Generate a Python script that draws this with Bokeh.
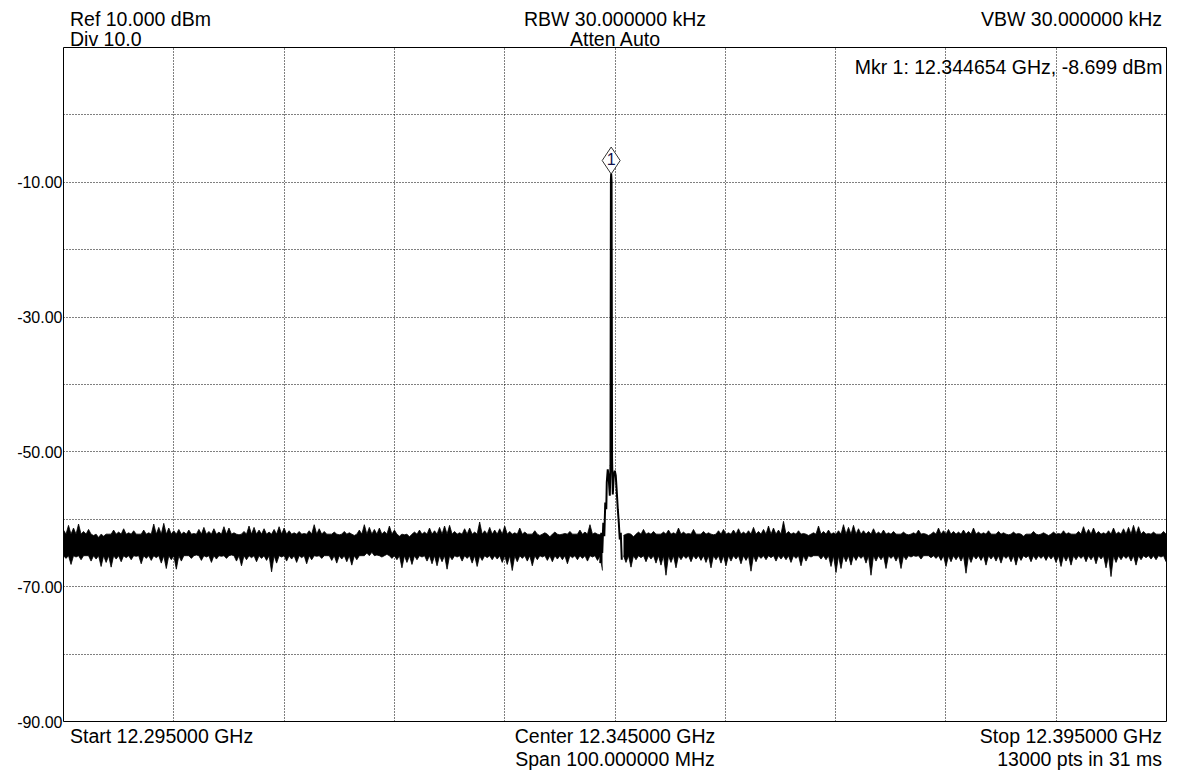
import numpy as np
from bokeh.plotting import figure
from bokeh.layouts import column
from bokeh.models import Range1d, FixedTicker, PrintfTickFormatter, Label, Div
from bokeh.embed import file_html
from bokeh.resources import INLINE
from bokeh.core.properties import value

# ---------------- data ----------------
f_start = 12.295          # GHz
f_stop = 12.395           # GHz
ref_level = 10.0          # dBm
div_db = 10.0
n_div = 10
y_label_ticks = [-90, -70, -50, -30, -10]
y_grid_ticks = [-80, -70, -60, -50, -40, -30, -20, -10, 0]
x_grid_ticks = [12.305, 12.315, 12.325, 12.335, 12.345, 12.355, 12.365, 12.375, 12.385]

mkr_freq = 12.344654      # GHz
mkr_level = -8.699        # dBm

# solid core of the noise band (dBm)
core_top = -62.2
core_bottom = -65.4

# noise floor, left of carrier: per-bin upper / lower extremes (dBm)
left_f_first, left_f_last = 12.295, 12.34364
left_hi = [-61.6, -60.9, -61.3, -60.7, -61.8, -61.5, -62.4, -62.7, -62.5, -62.2,
           -61.6, -61.9, -61.4, -62.0, -61.7, -62.2, -61.6, -62.0, -60.7, -61.2,
           -60.6, -61.3, -61.7, -61.5, -61.9, -61.6, -62.1, -61.5, -61.2, -61.8,
           -61.4, -61.9, -61.1, -61.3, -62.0, -62.3, -61.8, -61.0, -61.2, -61.6,
           -61.4, -61.9, -61.5, -61.1, -61.3, -61.7, -62.0, -61.8, -62.1, -61.7,
           -60.8, -61.4, -61.8, -62.2, -61.9, -62.3, -61.8, -62.0, -62.4, -61.6,
           -60.8, -61.2, -61.5, -61.3, -61.8, -61.0, -61.6, -62.5, -62.3, -62.6,
           -61.9, -61.6, -61.9, -61.3, -61.7,
           -61.2, -61.0, -60.9, -61.8, -62.0, -61.4, -61.3, -61.9, -60.4, -61.7,
           -61.2, -61.6, -61.4, -61.0, -61.8, -62.0, -61.3, -61.9, -62.2, -61.7,
           -62.4, -62.0, -62.6, -61.9, -62.3, -62.1, -61.8, -62.2, -61.6, -61.9,
           -60.8, -62.0, -62.3]
left_lo = [-65.8, -66.7, -65.6, -66.0, -65.4, -66.2, -65.9, -67.0, -66.4, -67.1,
           -65.9, -66.3, -65.7, -66.0, -65.5, -66.6, -65.8, -66.1, -65.7, -66.5,
           -67.3, -66.0, -67.4, -66.2, -65.4, -65.8, -65.3, -66.1, -65.6, -66.4,
           -65.9, -65.5, -65.8, -65.3, -66.2, -66.9, -66.0, -65.7, -66.3, -65.8,
           -66.1, -67.8, -66.5, -65.6, -66.2, -65.9, -66.4, -65.7, -66.6, -66.0,
           -65.5, -65.8, -65.4, -66.1, -66.5, -65.9, -66.3, -66.8, -66.0, -65.4,
           -65.0, -64.9, -65.3, -65.6, -65.2, -65.8, -66.0, -67.2, -66.4, -66.7,
           -66.0, -65.6, -66.2, -66.6, -66.9,
           -66.3, -67.4, -66.0, -65.6, -66.2, -65.8, -66.5, -67.0, -66.1, -65.7,
           -66.0, -65.9, -66.4, -66.7, -67.6, -66.3, -65.8, -66.2, -66.9, -66.0,
           -65.6, -66.1, -66.3, -65.9, -66.0, -66.6, -65.7, -66.0, -65.8, -66.2,
           -65.6, -66.1, -67.6]

# noise floor, right of carrier
right_f_first, right_f_last = 12.34577, 12.39473
right_hi = [-62.4, -62.1, -62.6, -61.9, -61.5, -62.0, -61.8, -62.2, -61.9, -61.6,
            -62.0, -61.3, -61.9, -62.1, -61.5, -62.2, -61.8, -62.0, -62.3, -61.7,
            -61.5, -62.0, -61.6, -61.4, -61.9, -61.7, -61.2, -61.8, -61.5, -61.0,
            -61.3, -61.6, -60.3, -61.8, -62.0, -61.7, -62.1,
            -62.4, -62.0, -61.0, -61.8, -61.6, -62.0, -61.7, -60.8, -61.2, -60.9,
            -61.4, -61.7, -61.8, -61.4, -61.9, -61.6, -62.0, -61.8, -62.2, -61.9,
            -62.3, -62.0, -61.6, -62.1, -62.4, -61.9, -61.3, -61.7, -61.5, -61.8,
            -61.9, -61.6, -61.8, -61.3, -61.9, -62.0, -61.7, -62.2, -61.8, -62.0,
            -62.3, -61.9, -62.1, -62.5, -62.2, -61.8, -62.3, -62.0, -62.4, -61.9,
            -62.1, -61.7, -62.0, -62.2, -61.8, -61.1, -61.5, -61.3, -61.8, -62.0,
            -61.7, -61.3, -61.9, -61.4, -61.2, -60.9, -61.1, -61.8, -62.1, -61.9,
            -62.2, -61.8]
right_lo = [-66.4, -67.1, -66.0, -65.7, -66.3, -65.9, -66.5, -66.8, -68.3, -66.4,
            -67.2, -66.0, -65.8, -66.3, -65.9, -66.1, -66.4, -67.2, -66.0, -66.5,
            -66.9, -66.2, -65.9, -66.6, -66.1, -67.7, -66.3, -65.8, -66.0, -65.7,
            -66.2, -65.9, -66.0, -66.4, -65.8, -66.9, -66.2,
            -65.6, -65.4, -65.9, -66.0, -67.0, -67.9, -67.3, -66.3, -66.8, -66.1,
            -65.8, -66.5, -68.3, -66.2, -66.0, -67.3, -65.8, -66.2, -67.3, -66.0,
            -65.6, -65.5, -65.9, -65.4, -65.7, -65.8, -66.1, -67.0, -66.3, -66.0,
            -66.2, -68.0, -66.4, -65.9, -66.1, -66.8, -65.9, -66.2, -66.5, -65.8,
            -66.3, -66.8, -66.1, -65.7, -66.3, -66.0, -65.8, -66.1, -65.9, -66.4,
            -67.0, -66.2, -66.8, -66.0, -65.8, -66.3, -66.0, -66.6, -65.9, -67.2,
            -68.5, -66.4, -66.0, -65.8, -66.2, -66.8, -66.0, -65.7, -65.9, -66.0,
            -65.6, -66.3]

# carrier: offset from marker frequency (kHz) and level (dBm)
carrier_offset_khz = [-990, -900, -810, -715, -625, -535, -445, -400, -310, -220,
                      -125, -65, -25, 0, 35, 80, 145, 235, 325, 415,
                      510, 600, 690, 780, 870, 960]
carrier_level = [-66.5, -62.0, -65.0, -60.5, -62.5, -57.5, -58.5, -54.5, -52.6, -54.0,
                 -56.5, -52.0, -9.6, -8.699, -9.8, -51.0, -56.3, -53.5, -52.8, -53.5,
                 -56.0, -58.5, -60.5, -63.0, -62.0, -66.0]

header_left = ["Ref 10.000 dBm", "Div 10.0"]
header_center = ["RBW 30.000000 kHz", "Atten Auto"]
header_right = ["VBW 30.000000 kHz"]
marker_text = "Mkr 1: 12.344654 GHz, -8.699 dBm"
footer_left = ["Start 12.295000 GHz"]
footer_center = ["Center 12.345000 GHz", "Span 100.000000 MHz"]
footer_right = ["Stop 12.395000 GHz", "13000 pts in 31 ms"]

# ---------------- layout constants (pixels) ----------------
W = 1171
HEAD_H = 46
FIG_H = 684
FOOT_H = 40
FL, FR = 63, 1166            # frame left/right (page px)
FT, FB = 47, 721             # frame top/bottom (page px)
FONT = "Liberation Sans"
FS = 19.5                    # header/footer font size (px)
LH = 12                      # span line-height (px)
BASE = (LH - 1.117 * FS) / 2 + 0.905 * FS   # baseline offset inside a span

# ---------------- build noise band ----------------
def band_points(f_first, f_last, hi, lo):
    f = np.linspace(f_first, f_last, len(hi))
    half = (f[1] - f[0]) / 2
    xs, top, bot = [], [], []
    for fi, h, l in zip(f, hi, lo):
        xs += [fi, fi + half]
        top += [h, core_top]
        bot += [core_bottom, l]
    return xs, top, bot

lx, ltop, lbot = band_points(left_f_first, left_f_last, left_hi, left_lo)
rx, rtop, rbot = band_points(right_f_first, right_f_last, right_hi, right_lo)
cx = [mkr_freq + o * 1e-6 for o in carrier_offset_khz]

# ---------------- figure ----------------
y_bottom = ref_level - n_div * div_db
p = figure(width=W, height=FIG_H,
           x_range=Range1d(f_start, f_stop), y_range=Range1d(y_bottom, ref_level),
           output_backend="svg", toolbar_location=None,
           x_axis_location=None, y_axis_location="left",
           min_border_left=FL, min_border_right=W - FR,
           min_border_top=FT - HEAD_H, min_border_bottom=FIG_H - (FB - HEAD_H))
p.background_fill_color = "white"
p.border_fill_color = "white"
p.outline_line_color = "black"
p.outline_line_width = 1
p.outline_line_alpha = 1.0

gpp = (f_stop - f_start) / (FR - FL)          # GHz per pixel
dpp = (ref_level - y_bottom) / (FB - FT)      # dB per pixel

def X(px):
    return f_start + (px - FL) * gpp

def Y(py):
    return ref_level - (py - FT) * dpp

p.xgrid.ticker = FixedTicker(ticks=x_grid_ticks)
p.ygrid.ticker = FixedTicker(ticks=y_grid_ticks)
for g in (p.xgrid, p.ygrid):
    g.grid_line_color = "black"
    g.grid_line_dash = "1 2"
    g.grid_line_width = 1
    g.grid_line_alpha = 1.0

ax = p.yaxis[0]
ax.ticker = FixedTicker(ticks=y_label_ticks)
ax.formatter = PrintfTickFormatter(format="%.2f")
ax.axis_line_color = None
ax.major_tick_line_color = None
ax.minor_tick_line_color = None
ax.major_tick_out = 0
ax.major_tick_in = 0
ax.major_label_standoff = 1
ax.major_label_text_font = FONT
ax.major_label_text_font_size = "16px"
ax.major_label_text_color = "black"

# noise band and carrier
p.varea(x=lx, y1=lbot, y2=ltop, fill_color="black")
p.varea(x=rx, y1=rbot, y2=rtop, fill_color="black")
p.line(lx, ltop, line_color="black", line_width=0.8)
p.line(lx, lbot, line_color="black", line_width=0.8)
p.line(rx, rtop, line_color="black", line_width=0.8)
p.line(rx, rbot, line_color="black", line_width=0.8)
p.line(cx, carrier_level, line_color="black", line_width=2)

# marker
p.scatter([mkr_freq], [mkr_level + 13 * dpp], marker="diamond", size=27,
          fill_color="white", line_color="#333333", line_width=1)
p.text([mkr_freq], [mkr_level + 14.5 * dpp], text=["1"], text_align="center",
       text_baseline="middle", text_font=value(FONT),
       text_font_size="16px", text_color="#10104a")

p.add_layout(Label(x=X(1162), y=Y(66.5), text=marker_text, text_align="right",
                   text_baseline="alphabetic", text_font=FONT,
                   text_font_size=f"{FS}px", text_color="black"))

# ---------------- header / footer texts ----------------
def span(txt, baseline, left=None, center=None, right=None):
    pos = (f"position:absolute;top:{baseline - BASE:.1f}px;white-space:nowrap;"
           f"line-height:{LH}px;")
    if left is not None:
        pos += f"left:{left}px;"
    elif center is not None:
        pos += f"left:{center}px;transform:translateX(-50%);"
    else:
        pos += f"right:{right}px;"
    return f'<span style="{pos}">{txt}</span>'

def block(h, spans):
    return (f'<div style="position:relative;width:{W}px;height:{h}px;margin:0;padding:0;'
            f'font-family:\'{FONT}\';font-size:{FS}px;color:black;overflow:visible;">'
            + "".join(spans) + "</div>")

head = Div(width=W, height=HEAD_H, margin=(0, 0, 0, 0), text=block(HEAD_H, [
    span(header_left[0], 26, left=70),
    span(header_left[1], 46, left=70),
    span(header_center[0], 26, center=615),
    span(header_center[1], 46, center=615),
    span(header_right[0], 26, right=W - 1162),
]))
ft = HEAD_H + FIG_H
foot = Div(width=W, height=FOOT_H, margin=(0, 0, 0, 0), text=block(FOOT_H, [
    span(footer_left[0], 743 - ft, left=70),
    span(footer_center[0], 743 - ft, center=615),
    span(footer_center[1], 766 - ft, center=615),
    span(footer_right[0], 743 - ft, right=W - 1162),
    span(footer_right[1], 766 - ft, right=W - 1162),
]))

layout = column(head, p, foot, spacing=0)
open("out.html", "w").write(file_html(layout, INLINE))
